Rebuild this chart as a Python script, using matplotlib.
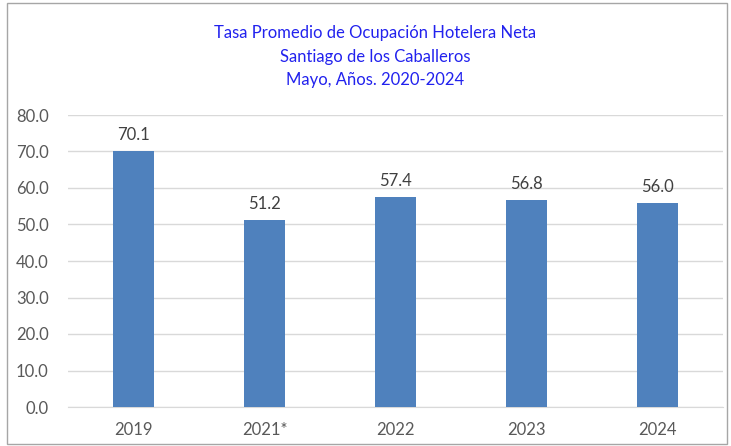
import matplotlib
matplotlib.use("Agg")
import matplotlib.pyplot as plt
from matplotlib.patches import Rectangle

categories = ["2019", "2021*", "2022", "2023", "2024"]
values = [70.1, 51.2, 57.4, 56.8, 56.0]
title_lines = ["Tasa Promedio de Ocupación Hotelera Neta",
               "Santiago de los Caballeros",
               "Mayo, Años. 2020-2024"]

plt.rcParams['font.family'] = ['Lato', 'DejaVu Sans']
fig = plt.figure(figsize=(7.31, 4.46), dpi=100)
ax = fig.add_axes([68/731, 1-407/446, (723-68)/731, (407-115)/446])

x = list(range(len(categories)))
ax.bar(x, values, width=0.32, color="#4F81BD", zorder=3)
for xi, v in zip(x, values):
    ax.text(xi, v + 2.2, f"{v:.1f}", ha="center", va="bottom", fontsize=12, color="#404040")

ax.set_xlim(-0.5, len(categories) - 0.5)
ax.set_ylim(0, 80)
ax.set_yticks(range(0, 81, 10))
ax.set_yticklabels([f"{t:.1f}" for t in range(0, 81, 10)])
ax.set_xticks(x)
ax.set_xticklabels(categories)
ax.tick_params(axis="both", length=0, labelsize=12, colors="#595959")
ax.tick_params(axis="x", pad=11)
ax.tick_params(axis="y", pad=14)
ax.grid(axis="y", color="#D9D9D9", linewidth=1, zorder=0)
for s in ["top", "right", "left"]:
    ax.spines[s].set_visible(False)
ax.spines["bottom"].set_color("#D9D9D9")

ys = [33, 57, 80]
for line, y in zip(title_lines, ys):
    fig.text(375/731, 1 - y/446, line, ha="center", va="center", fontsize=12, color="#2222EE")

fig.patches.append(Rectangle((7/731, 2/446), 720/731, 441/446, transform=fig.transFigure,
                             fill=False, edgecolor="#A6A6A6", linewidth=1))
fig.savefig("out.png", dpi=100)
